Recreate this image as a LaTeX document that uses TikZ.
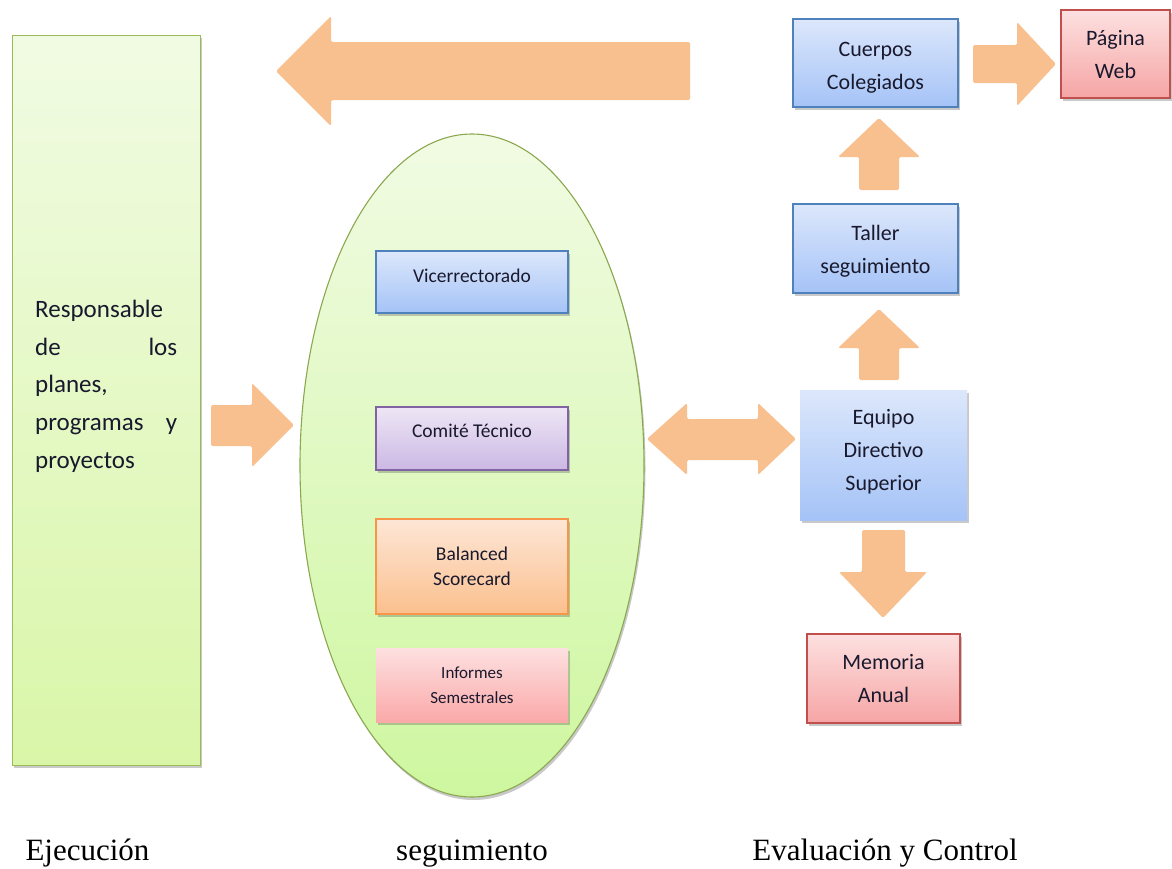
\documentclass[tikz,border=0pt]{standalone}
\usepackage{fontspec}
\setmainfont{Carlito}
\newfontfamily\labelserif{Liberation Serif}
\usetikzlibrary{shadows,shapes.geometric}
\newcommand\liftt[2]{\raisebox{#1}[\height][\depth]{\begin{tabular}{@{}c@{}}#2\end{tabular}}}
\definecolor{txt}{RGB}{25,25,45}
\definecolor{arrowc}{RGB}{249,192,143}
\definecolor{bluetop}{RGB}{220,231,251}
\definecolor{bluebot}{RGB}{165,195,247}
\definecolor{blueline}{RGB}{79,129,189}
\definecolor{purtop}{RGB}{238,230,245}
\definecolor{purbot}{RGB}{203,184,228}
\definecolor{purline}{RGB}{128,100,162}
\definecolor{oratop}{RGB}{253,230,214}
\definecolor{orabot}{RGB}{251,192,142}
\definecolor{oraline}{RGB}{247,150,70}
\definecolor{redtop}{RGB}{253,224,224}
\definecolor{redbot}{RGB}{246,165,165}
\definecolor{redline}{RGB}{192,80,77}
\definecolor{pinktop}{RGB}{253,224,224}
\definecolor{pinkbot}{RGB}{251,169,169}
\definecolor{grntop}{RGB}{241,251,227}
\definecolor{grnbot}{RGB}{217,246,168}
\definecolor{grnline}{RGB}{155,187,89}
\begin{document}
\begin{tikzpicture}[x=1pt,y=-1pt,
  box/.style={rectangle, inner sep=0pt, align=center, text=txt,
    line width=1.2pt,
    drop shadow={shadow xshift=1.5pt, shadow yshift=-2.5pt, opacity=0.3, fill=black!70}},
  bluebox/.style={box, top color=bluetop, bottom color=bluebot, draw=blueline},
  softblue/.style={box, top color=bluetop, bottom color=bluebot},
  purbox/.style={box, top color=purtop, bottom color=purbot, draw=purline},
  orabox/.style={box, top color=oratop, bottom color=orabot, draw=oraline},
  pinkbox/.style={box, top color=pinktop, bottom color=pinkbot},
  redbox/.style={box, top color=redtop, bottom color=redbot, draw=redline},
  blockarrow/.style={fill=arrowc, rounded corners=1.5pt},
  big/.style={font=\fontsize{22}{33}\selectfont},
  mid/.style={font=\fontsize{19.5}{25}\selectfont},
  small/.style={font=\fontsize{17}{25}\selectfont},
  phase/.style={font=\labelserif\fontsize{31}{31}\selectfont, text=black, anchor=base, inner sep=0pt}
]
\useasboundingbox (0,0) rectangle (1172,868);

% left green box
\node[box, top color=grntop, bottom color=grnbot, draw=grnline, line width=1pt,
  minimum width=188pt, minimum height=730pt] (resp) at (106,400) {};
\node[anchor=north west, text width=142pt, align=left, inner sep=0pt, text=txt,
  font=\fontsize{25}{37.7}\selectfont] (resptxt) at (35,300)
  {Responsable\\de\hfill los\\planes,\\programas\hfill y\\proyectos};

% ellipse
\node[ellipse, top color=grntop, bottom color=grnbot!95!green, draw=grnline!90!black, line width=1.1pt,
  minimum width=344pt, minimum height=663pt, inner sep=0pt,
  drop shadow={shadow xshift=1.5pt, shadow yshift=-3pt, opacity=0.3, fill=black!70}] (seg) at (472,465.5) {};

% boxes in ellipse
\node[bluebox, minimum width=192pt, minimum height=62pt, mid] (vice) at (472,282) {\liftt{5pt}{Vicerrectorado}};
\node[purbox, minimum width=192pt, minimum height=63pt, mid] (comite) at (472,438.5) {\liftt{6pt}{Comité Técnico}};
\node[orabox, minimum width=192pt, minimum height=95pt, mid] (bsc) at (472,566.5) {\liftt{-1.5pt}{Balanced\\Scorecard}};
\node[pinkbox, minimum width=192pt, minimum height=74pt, small] (inf) at (472,685) {Informes\\Semestrales};

% right column
\node[bluebox, minimum width=165pt, minimum height=88pt, big] (cuerpos) at (875.5,63) {\liftt{-3.5pt}{Cuerpos\\Colegiados}};
\node[redbox, minimum width=109pt, minimum height=88pt, big] (web) at (1115.5,54) {\liftt{-1pt}{Página\\Web}};
\node[bluebox, minimum width=165pt, minimum height=89pt, big] (taller) at (875.5,248.5) {\liftt{-2pt}{Taller\\seguimiento}};
\node[softblue, minimum width=167pt, minimum height=130pt, big] (equipo) at (883.5,455) {\liftt{4pt}{Equipo\\Directivo\\Superior}};
\node[redbox, minimum width=153pt, minimum height=89pt, big] (memoria) at (883.5,678.5) {Memoria\\Anual};

% block arrows
\fill[blockarrow] (690,42) -- (331,42) -- (331,16) -- (276,71) -- (331,126) -- (331,100) -- (690,100) -- cycle;
\fill[blockarrow] (211,405) -- (252,405) -- (252,383) -- (294,425) -- (252,467) -- (252,446) -- (211,446) -- cycle;
\fill[blockarrow] (647,439) -- (687,403) -- (687,419) -- (758,419) -- (758,403) -- (796,439) -- (758,475) -- (758,460) -- (687,460) -- (687,475) -- cycle;
\fill[blockarrow] (859,190) -- (859,157) -- (838,157) -- (879,118) -- (920,157) -- (899,157) -- (899,190) -- cycle;
\fill[blockarrow] (859,380) -- (859,348) -- (838,348) -- (879,309) -- (920,348) -- (899,348) -- (899,380) -- cycle;
\fill[blockarrow] (862,530) -- (905,530) -- (905,572) -- (927,572) -- (883,618) -- (839,572) -- (862,572) -- cycle;
\fill[blockarrow] (973,45) -- (1017,45) -- (1017,22) -- (1056,64) -- (1017,106) -- (1017,83) -- (973,83) -- cycle;

% phase labels
\node[phase] (ejec) at (87.5,860) {Ejecución};
\node[phase] (segl) at (472,860) {seguimiento};
\node[phase] (eval) at (885,860) {Evaluación y Control};
\end{tikzpicture}
\end{document}
